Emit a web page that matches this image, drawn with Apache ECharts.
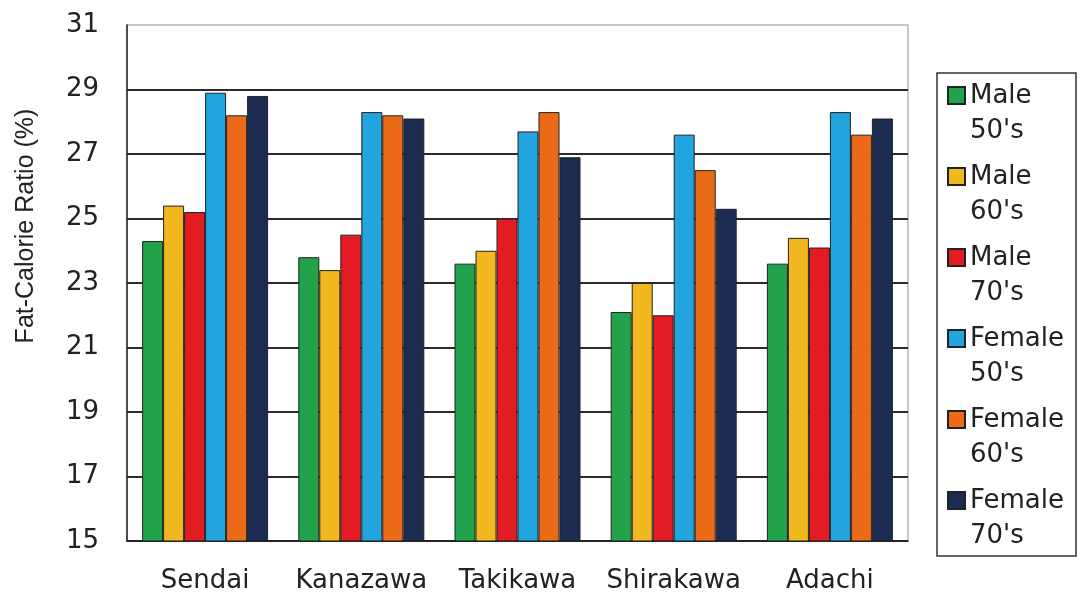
<!DOCTYPE html>
<html>
<head>
<meta charset="utf-8">
<script src="https://cdn.jsdelivr.net/npm/echarts@6/dist/echarts.min.js"></script>
<style>html,body{margin:0;padding:0;background:#fff}#c{width:1083px;height:601px}</style>
</head>
<body>
<div id="c"></div>
<script>
const categories = ['Sendai', 'Kanazawa', 'Takikawa', 'Shirakawa', 'Adachi'];
const seriesNames = ["Male\n50's", "Male\n60's", "Male\n70's", "Female\n50's", "Female\n60's", "Female\n70's"];
const male50 = [24.3, 23.8, 23.6, 22.1, 23.6];
const male60 = [25.4, 23.4, 24.0, 23.0, 24.4];
const male70 = [25.2, 24.5, 25.0, 22.0, 24.1];
const female50 = [28.9, 28.3, 27.7, 27.6, 28.3];
const female60 = [28.2, 28.2, 28.3, 26.5, 27.6];
const female70 = [28.8, 28.1, 26.9, 25.3, 28.1];
const colors = ['#22a24b', '#f2b81f', '#e31b23', '#22a4de', '#eb6a18', '#1b2b52'];
const yName = 'Fat-Calorie Ratio (%)';

const values = [male50, male60, male70, female50, female60, female70];
const wideFont = 'DejaVu Sans, Liberation Sans, Arial, sans-serif';
const font = 'Liberation Sans, Arial, sans-serif';

const chart = echarts.init(document.getElementById('c'), null, {renderer: 'canvas'});
chart.setOption({
  animation: false,
  backgroundColor: '#fff',
  grid: {left: 127, right: 175, top: 25, bottom: 60, show: true, borderColor: '#b8b8b8', borderWidth: 1.5, containLabel: false},
  legend: {
    orient: 'vertical',
    left: 937,
    top: 73,
    padding: [5, 12, 1, 10],
    itemWidth: 17,
    itemHeight: 70,
    itemGap: 9,
    borderColor: '#333',
    borderWidth: 1.5,
    icon: 'path://M0,0 M0,8h17v17h-17z M0,70',
    textStyle: {fontFamily: wideFont, fontSize: 26, color: '#222', lineHeight: 35},
    data: seriesNames
  },
  xAxis: {
    type: 'category',
    data: categories,
    axisLine: {lineStyle: {color: '#222', width: 1.5}},
    axisTick: {show: false},
    axisLabel: {interval: 0, hideOverlap: false, fontFamily: wideFont, fontSize: 26, color: '#222', margin: 27}
  },
  yAxis: {
    type: 'value',
    min: 15,
    max: 31,
    interval: 2,
    name: yName,
    nameLocation: 'middle',
    nameGap: 88,
    nameTextStyle: {fontFamily: font, fontSize: 25, color: '#222', padding: [0, 0, 0, 114]},
    axisLine: {show: true, lineStyle: {color: '#222', width: 1.5}},
    axisTick: {show: false},
    axisLabel: {fontFamily: wideFont, fontSize: 26, color: '#222', margin: 28},
    splitLine: {show: true, showMaxLine: false, lineStyle: {color: '#2a2a2a', width: 2}}
  },
  series: seriesNames.map((n, i) => ({
    name: n,
    type: 'bar',
    data: values[i],
    barWidth: 21,
    barGap: '0%',
    itemStyle: {color: colors[i], borderColor: '#222', borderWidth: 1}
  }))
});
</script>
</body>
</html>
